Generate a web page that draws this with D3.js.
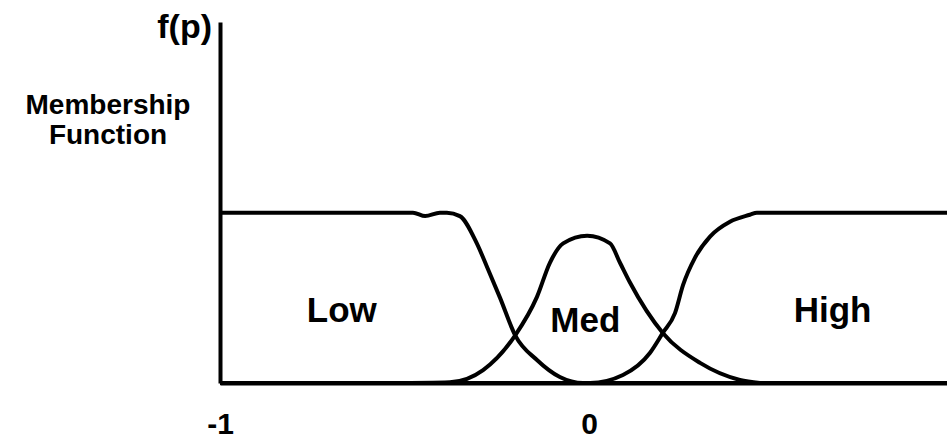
<!DOCTYPE html>
<html>
<head>
<meta charset="utf-8">
<script src="https://cdn.jsdelivr.net/npm/d3@7"></script>
<style>
  html, body { margin: 0; padding: 0; background: #fff; }
  svg { display: block; }
  text { font-family: 'Liberation Sans', Arial, sans-serif; font-weight: bold; fill: #000; }
</style>
</head>
<body>
<svg id="membership"></svg>
<script>
// x ticks on the p axis
const xTicks = [-1, 0, 1];

// membership curves, [p, f(p)]
const lowCurve = [
  [-1, 1], [-0.477, 1], [-0.444, 0.98], [-0.404, 1], [-0.385, 1],
  [-0.35, 0.98], [-0.304, 0.82], [-0.276, 0.68], [-0.241, 0.5],
  [-0.2, 0.28], [-0.141, 0.135], [-0.079, 0.035], [-0.016, 0], [1, 0],
];
const medCurve = [
  [-0.531, 0], [-0.377, 0.005], [-0.287, 0.076], [-0.2, 0.28],
  [-0.141, 0.506], [-0.106, 0.706], [-0.07, 0.82], [-0.005, 0.865],
  [0.057, 0.82], [0.084, 0.706], [0.111, 0.59], [0.2, 0.294],
  [0.301, 0.118], [0.409, 0.018], [0.463, 0],
];
const highCurve = [
  [-1, 0], [0.003, 0], [0.092, 0.047], [0.165, 0.176], [0.2, 0.294],
  [0.233, 0.41], [0.255, 0.576], [0.287, 0.735], [0.328, 0.86],
  [0.382, 0.947], [0.436, 0.988], [0.455, 1], [1, 1],
];

const regionNames = ['Low', 'Med', 'High'];
const regionCenters = [-0.67, -0.01, 0.66];

const render = () => {
  const width = 947;
  const height = 442;

  const svg = d3.select('#membership')
    .attr('width', width)
    .attr('height', height);

  const x = d3.scaleLinear()
    .domain([-1, 1])
    .range([220, 958]);

  // top of the axis line sits well above f(p) = 1
  const y = d3.scaleLinear()
    .domain([0, 2.12])
    .range([383, 22]);

  const line = d3.line()
    .x(d => x(d[0]))
    .y(d => y(d[1]))
    .curve(d3.curveMonotoneX);

  // curves
  svg.selectAll('.curve')
      .data([lowCurve, medCurve, highCurve])
    .enter().append('path')
      .attr('class', 'curve')
      .attr('d', line)
      .attr('fill', 'none')
      .attr('stroke', '#000')
      .attr('stroke-width', 4)
      .attr('stroke-linejoin', 'round');

  // axes
  const xAxis = svg.append('g')
    .attr('transform', `translate(0, ${y(0)})`)
    .call(d3.axisBottom(x)
      .tickValues(xTicks)
      .tickSize(0)
      .tickPadding(30)
      .tickFormat(d => String(d)));

  xAxis.select('.domain')
    .attr('stroke', '#000')
    .attr('stroke-width', 4);
  xAxis.selectAll('text')
    .attr('font-family', "'Liberation Sans', Arial, sans-serif")
    .attr('font-weight', 'bold')
    .attr('font-size', 30)
    .attr('fill', '#000');

  const yAxis = svg.append('g')
    .attr('transform', `translate(${x(-1)}, 0)`)
    .call(d3.axisLeft(y)
      .tickValues([])
      .tickSizeOuter(0));

  yAxis.select('.domain')
    .attr('stroke', '#000')
    .attr('stroke-width', 4);

  // region labels
  svg.selectAll('.region')
      .data(regionNames)
    .enter().append('text')
      .attr('class', 'region')
      .attr('x', (d, i) => x(regionCenters[i]))
      .attr('y', (d, i) => (i === 1 ? 332 : 322))
      .attr('text-anchor', 'middle')
      .attr('font-size', 35)
      .text(d => d);

  // axis titles
  svg.append('text')
    .attr('x', 212)
    .attr('y', 38)
    .attr('text-anchor', 'end')
    .attr('font-size', 34)
    .text('f(p)');

  const title = svg.append('text')
    .attr('x', 108)
    .attr('y', 114)
    .attr('text-anchor', 'middle')
    .attr('font-size', 28);
  title.append('tspan')
    .attr('x', 108)
    .text('Membership');
  title.append('tspan')
    .attr('x', 108)
    .attr('dy', 30)
    .text('Function');
};

render();
</script>
</body>
</html>
